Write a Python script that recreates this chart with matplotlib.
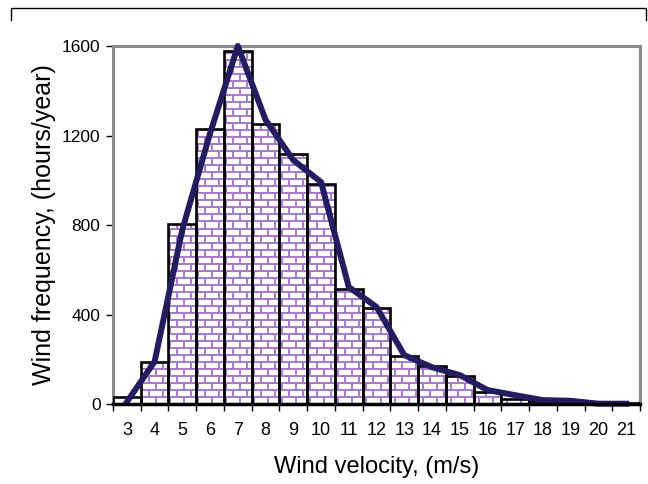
import matplotlib.pyplot as plt
import numpy as np
from matplotlib.path import Path
from matplotlib.lines import Line2D

# Dados
velocity = [3, 4, 5, 6, 7, 8, 9, 10, 11, 12, 13, 14, 15, 16, 17, 18, 19, 20, 21]
hours_bar = [30, 188, 805, 1230, 1578, 1250, 1118, 983, 514, 430, 215, 170, 125, 55, 25, 12, 8, 3, 3]
hours_line = [10, 190, 780, 1210, 1600, 1270, 1090, 992, 523, 434, 219, 165, 130, 63, 40, 18, 15, 2, 2]

plt.rcParams['font.family'] = ['Liberation Sans', 'DejaVu Sans']

fig = plt.figure(figsize=(6.48, 4.84), dpi=100)
ax = fig.add_axes([0.1744, 0.165, 0.8133, 0.740])
ax.set_xlim(2.5, 21.5)
ax.set_ylim(0, 1600)

# barras (fundo branco)
bars = ax.bar(velocity, hours_bar, width=1.0, color='white', edgecolor='none', zorder=1)

# textura de tijolos
bb = ax.get_window_extent()
W, H = int(round(bb.width)), int(round(bb.height))
yy, xx = np.indices((H, W))
row = yy // 7
shift = np.where(row % 2 == 0, 0, 7)
mortar = ((yy % 7) < 2) | (((xx + shift) % 14) < 2)
img = np.ones((H, W, 3))
purple = np.array([0xa6, 0x7c, 0xcf]) / 255.0
img[mortar] = purple
im = ax.imshow(img[::-1], extent=(2.5, 21.5, 0, 1600), aspect='auto',
               interpolation='nearest', origin='lower', zorder=2)
paths = [b.get_path().transformed(b.get_patch_transform()) for b in bars]
im.set_clip_path(Path.make_compound_path(*paths), ax.transData)

# contornos das barras
ax.bar(velocity, hours_bar, width=1.0, color='none', edgecolor='black', linewidth=1.9, zorder=3)

# curva
ax.plot(velocity, hours_line, color='#221d5e', linewidth=4.3, zorder=4,
        solid_joinstyle='round', clip_on=False)

# eixos
for s in ['left', 'top', 'right']:
    ax.spines[s].set_color('#8a8a8a')
    ax.spines[s].set_linewidth(2.2)
ax.spines['bottom'].set_color('black')
ax.spines['bottom'].set_linewidth(2.5)
ax.spines['bottom'].set_zorder(5)

ax.set_yticks([0, 400, 800, 1200, 1600])
ax.tick_params(axis='y', length=5, width=1, labelsize=12.5, pad=4)
ax.set_xticks(velocity)
ax.set_xticks(np.arange(2.5, 22, 1), minor=True)
ax.tick_params(axis='x', which='major', length=0, labelsize=13, pad=13)
ax.tick_params(axis='x', which='minor', length=5, width=1)

ax.set_xlabel('Wind velocity, (m/s)', fontsize=17, labelpad=12)
ax.set_ylabel('Wind frequency, (hours/year)', fontsize=18, labelpad=4)

# moldura superior
fig.add_artist(Line2D([11 / 648, 11 / 648, 646 / 648, 646 / 648],
                      [1 - 20 / 484, 1 - 8 / 484, 1 - 8 / 484, 1 - 20 / 484],
                      color='black', linewidth=1))

plt.savefig('out.png', dpi=100)
plt.close()
